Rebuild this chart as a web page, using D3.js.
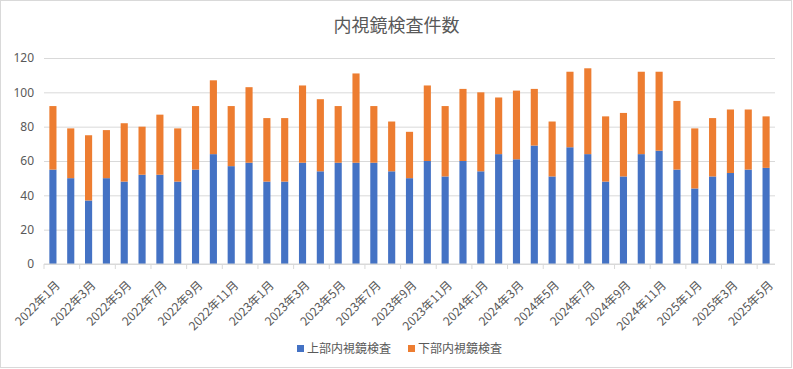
<!DOCTYPE html>
<html>
<head>
<meta charset="utf-8">
<script src="https://cdn.jsdelivr.net/npm/d3@7"></script>
<style>
  body { margin: 0; background: #fff; }
  svg { font-family: "Noto Sans CJK JP", "Noto Sans", sans-serif; }
</style>
</head>
<body>
<div id="wrapper"></div>
<script>
// months, 2022年1月 .. 2025年5月
const months = [
  '2022年1月', '2022年2月', '2022年3月', '2022年4月', '2022年5月', '2022年6月',
  '2022年7月', '2022年8月', '2022年9月', '2022年10月', '2022年11月', '2022年12月',
  '2023年1月', '2023年2月', '2023年3月', '2023年4月', '2023年5月', '2023年6月',
  '2023年7月', '2023年8月', '2023年9月', '2023年10月', '2023年11月', '2023年12月',
  '2024年1月', '2024年2月', '2024年3月', '2024年4月', '2024年5月', '2024年6月',
  '2024年7月', '2024年8月', '2024年9月', '2024年10月', '2024年11月', '2024年12月',
  '2025年1月', '2025年2月', '2025年3月', '2025年4月', '2025年5月',
];
const upper = [
  55, 50, 37, 50, 48, 52, 52, 48, 55, 64, 57, 59,
  48, 48, 59, 54, 59, 59, 59, 54, 50, 60, 51, 60,
  54, 64, 61, 69, 51, 68, 64, 48, 51, 64, 66, 55,
  44, 51, 53, 55, 56,
];
const total = [
  92, 79, 75, 78, 82, 80, 87, 79, 92, 107, 92, 103,
  85, 85, 104, 96, 92, 111, 92, 83, 77, 104, 92, 102,
  100, 97, 101, 102, 83, 112, 114, 86, 88, 112, 112, 95,
  79, 85, 90, 90, 86,
];
const lower = total.map((t, i) => t - upper[i]);
const seriesNames = ['上部内視鏡検査', '下部内視鏡検査'];
const colors = ['#4472c4', '#ed7d31'];
const yTicks = [0, 20, 40, 60, 80, 100, 120];

const dataset = months.map((m, i) => ({ month: m, upper: upper[i], lower: lower[i] }));

const dimensions = {
  width: 793,
  height: 369,
  margin: { top: 58, right: 18, bottom: 105, left: 44 },
};
dimensions.boundedWidth = dimensions.width - dimensions.margin.left - dimensions.margin.right;
dimensions.boundedHeight = dimensions.height - dimensions.margin.top - dimensions.margin.bottom;

const xScale = d3.scaleBand()
  .domain(months)
  .range([0, dimensions.boundedWidth])
  .paddingInner(0.6)
  .paddingOuter(0.3);

const yScale = d3.scaleLinear()
  .domain([0, 120])
  .range([dimensions.boundedHeight, 0]);

const wrapper = d3.select('#wrapper')
  .append('svg')
  .attr('width', dimensions.width)
  .attr('height', dimensions.height);

// chart border
wrapper.append('rect')
  .attr('x', 0.5).attr('y', 0.5)
  .attr('width', dimensions.width - 2)
  .attr('height', dimensions.height - 2)
  .attr('fill', '#fff')
  .attr('stroke', '#d9d9d9');

wrapper.append('text')
  .attr('x', dimensions.width / 2)
  .attr('y', 32)
  .attr('text-anchor', 'middle')
  .attr('fill', '#595959')
  .style('font-size', '18px')
  .text('内視鏡検査件数');

const bounds = wrapper.append('g')
  .attr('transform', `translate(${dimensions.margin.left}, ${dimensions.margin.top})`);

// gridlines + y labels
const yAxis = d3.axisLeft(yScale)
  .tickValues(yTicks)
  .tickSize(-dimensions.boundedWidth)
  .tickPadding(10);
const yAxisGroup = bounds.append('g').call(yAxis);
yAxisGroup.select('.domain').remove();
yAxisGroup.selectAll('line').attr('stroke', '#d9d9d9');
yAxisGroup.selectAll('text')
  .attr('fill', '#595959')
  .style('font-size', '12px')
  .style('font-family', '"Noto Sans", sans-serif');

// stacked bars
const stack = d3.stack().keys(['upper', 'lower']);
const stacked = stack(dataset);

bounds.selectAll('.series')
  .data(stacked)
  .join('g')
  .attr('fill', (d, i) => colors[i])
  .selectAll('rect')
  .data((d) => d)
  .join('rect')
  .attr('x', (d) => xScale(d.data.month))
  .attr('y', (d) => yScale(d[1]))
  .attr('width', xScale.bandwidth())
  .attr('height', (d) => yScale(d[0]) - yScale(d[1]));

// x axis
const step = xScale.step();
const xAxisGroup = bounds.append('g')
  .attr('transform', `translate(0, ${dimensions.boundedHeight})`);
xAxisGroup.append('line')
  .attr('x1', 0).attr('x2', dimensions.boundedWidth)
  .attr('stroke', '#d9d9d9');
xAxisGroup.selectAll('.tick-mark')
  .data(d3.range(0, months.length + 1, 2))
  .join('line')
  .attr('x1', (i) => i * step)
  .attr('x2', (i) => i * step)
  .attr('y1', 0).attr('y2', 5)
  .attr('stroke', '#d9d9d9');

xAxisGroup.selectAll('.label')
  .data(months.filter((d, i) => i % 2 === 0))
  .join('text')
  .attr('transform', (d) => `translate(${xScale(d) + xScale.bandwidth() / 2 + 2}, 16) rotate(-45)`)
  .attr('text-anchor', 'end')
  .attr('dy', '0.7em')
  .attr('fill', '#595959')
  .style('font-size', '12px')
  .text((d) => d);

// legend
const legend = wrapper.append('g')
  .attr('transform', 'translate(297, 349)');
const legendItems = legend.selectAll('g')
  .data(seriesNames)
  .join('g')
  .attr('transform', (d, i) => `translate(${i * 111}, 0)`);
legendItems.append('rect')
  .attr('x', 0).attr('y', -4)
  .attr('width', 7).attr('height', 7)
  .attr('fill', (d, i) => colors[i]);
legendItems.append('text')
  .attr('x', 10)
  .attr('y', 0)
  .attr('dy', '0.35em')
  .attr('fill', '#595959')
  .style('font-size', '12px')
  .text((d) => d);
</script>
</body>
</html>
